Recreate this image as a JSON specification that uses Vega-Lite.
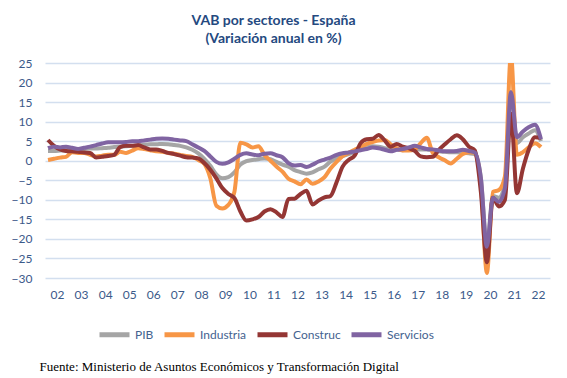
{
  "$schema": "https://vega.github.io/schema/vega-lite/v6.json",
  "width": 505,
  "height": 215,
  "autosize": {"type": "none"},
  "padding": {"left": 45, "top": 63, "right": 17, "bottom": 100},
  "background": "white",
  "config": {"view": {"stroke": null}},
  "title": {
    "text": ["VAB por sectores - España", "(Variación anual en %)"],
    "font": "Lato", "fontSize": 14, "fontWeight": "bold", "color": "#24497F",
    "anchor": "middle", "dx": -24, "offset": 11, "lineHeight": 18
  },
  "data": {"values": [
    {"t": 2002.125, "PIB": 2.5, "Industria": 0.2, "Construc": 5.3, "Servicios": 3.2},
    {"t": 2002.375, "PIB": 2.5, "Industria": 0.5, "Construc": 3.8, "Servicios": 3.6},
    {"t": 2002.625, "PIB": 2.6, "Industria": 0.8, "Construc": 2.9, "Servicios": 3.4},
    {"t": 2002.875, "PIB": 2.7, "Industria": 1.0, "Construc": 2.5, "Servicios": 3.6},
    {"t": 2003.125, "PIB": 2.9, "Industria": 2.2, "Construc": 2.4, "Servicios": 3.3},
    {"t": 2003.375, "PIB": 2.9, "Industria": 2.0, "Construc": 2.3, "Servicios": 3.0},
    {"t": 2003.625, "PIB": 3.0, "Industria": 2.0, "Construc": 2.1, "Servicios": 3.3},
    {"t": 2003.875, "PIB": 3.1, "Industria": 1.5, "Construc": 2.0, "Servicios": 3.6},
    {"t": 2004.125, "PIB": 3.1, "Industria": 1.1, "Construc": 0.8, "Servicios": 4.0},
    {"t": 2004.375, "PIB": 3.2, "Industria": 1.3, "Construc": 1.0, "Servicios": 4.4},
    {"t": 2004.625, "PIB": 3.3, "Industria": 1.5, "Construc": 1.2, "Servicios": 4.7},
    {"t": 2004.875, "PIB": 3.5, "Industria": 1.5, "Construc": 1.5, "Servicios": 4.7},
    {"t": 2005.125, "PIB": 3.6, "Industria": 2.3, "Construc": 3.5, "Servicios": 4.7},
    {"t": 2005.375, "PIB": 3.7, "Industria": 2.0, "Construc": 3.8, "Servicios": 4.8},
    {"t": 2005.625, "PIB": 3.8, "Industria": 2.6, "Construc": 3.8, "Servicios": 5.0},
    {"t": 2005.875, "PIB": 3.9, "Industria": 3.2, "Construc": 4.0, "Servicios": 5.0},
    {"t": 2006.125, "PIB": 4.1, "Industria": 3.0, "Construc": 3.4, "Servicios": 5.2},
    {"t": 2006.375, "PIB": 4.2, "Industria": 2.7, "Construc": 2.9, "Servicios": 5.4},
    {"t": 2006.625, "PIB": 4.2, "Industria": 2.4, "Construc": 2.9, "Servicios": 5.6},
    {"t": 2006.875, "PIB": 4.3, "Industria": 2.3, "Construc": 2.5, "Servicios": 5.7},
    {"t": 2007.125, "PIB": 4.2, "Industria": 2.0, "Construc": 2.0, "Servicios": 5.6},
    {"t": 2007.375, "PIB": 4.0, "Industria": 1.8, "Construc": 1.7, "Servicios": 5.4},
    {"t": 2007.625, "PIB": 3.8, "Industria": 1.5, "Construc": 1.3, "Servicios": 5.2},
    {"t": 2007.875, "PIB": 3.4, "Industria": 1.2, "Construc": 0.9, "Servicios": 5.0},
    {"t": 2008.125, "PIB": 2.8, "Industria": 1.0, "Construc": 0.8, "Servicios": 4.2},
    {"t": 2008.375, "PIB": 1.9, "Industria": 0.2, "Construc": 0.6, "Servicios": 3.4},
    {"t": 2008.625, "PIB": 0.5, "Industria": -0.8, "Construc": -0.6, "Servicios": 2.5},
    {"t": 2008.875, "PIB": -1.3, "Industria": -4.5, "Construc": -2.3, "Servicios": 1.1},
    {"t": 2009.125, "PIB": -3.5, "Industria": -11.5, "Construc": -4.5, "Servicios": -0.3},
    {"t": 2009.375, "PIB": -4.5, "Industria": -12.2, "Construc": -7.0, "Servicios": -0.8},
    {"t": 2009.625, "PIB": -4.2, "Industria": -11.3, "Construc": -8.5, "Servicios": -0.4},
    {"t": 2009.875, "PIB": -3.0, "Industria": -8.0, "Construc": -9.5, "Servicios": 0.5},
    {"t": 2010.125, "PIB": -1.0, "Industria": 4.6, "Construc": -13.0, "Servicios": 1.5},
    {"t": 2010.375, "PIB": -0.1, "Industria": 4.2, "Construc": -15.3, "Servicios": 1.9},
    {"t": 2010.625, "PIB": 0.2, "Industria": 3.4, "Construc": -15.0, "Servicios": 1.6},
    {"t": 2010.875, "PIB": 0.4, "Industria": 3.7, "Construc": -14.4, "Servicios": 1.4},
    {"t": 2011.125, "PIB": 0.6, "Industria": 1.5, "Construc": -13.0, "Servicios": 1.8},
    {"t": 2011.375, "PIB": 0.4, "Industria": 0.0, "Construc": -12.4, "Servicios": 1.9},
    {"t": 2011.625, "PIB": -0.3, "Industria": -1.5, "Construc": -13.2, "Servicios": 1.4},
    {"t": 2011.875, "PIB": -1.0, "Industria": -2.8, "Construc": -14.4, "Servicios": 0.9},
    {"t": 2012.125, "PIB": -1.5, "Industria": -4.6, "Construc": -9.8, "Servicios": -0.6},
    {"t": 2012.375, "PIB": -2.4, "Industria": -5.3, "Construc": -9.7, "Servicios": -1.2},
    {"t": 2012.625, "PIB": -2.9, "Industria": -6.0, "Construc": -8.5, "Servicios": -1.1},
    {"t": 2012.875, "PIB": -3.3, "Industria": -4.8, "Construc": -7.7, "Servicios": -1.6},
    {"t": 2013.125, "PIB": -3.0, "Industria": -5.9, "Construc": -11.2, "Servicios": -1.0},
    {"t": 2013.375, "PIB": -2.2, "Industria": -5.3, "Construc": -10.2, "Servicios": -0.2},
    {"t": 2013.625, "PIB": -1.5, "Industria": -4.2, "Construc": -9.4, "Servicios": 0.3},
    {"t": 2013.875, "PIB": -0.2, "Industria": -2.0, "Construc": -9.0, "Servicios": 0.8},
    {"t": 2014.125, "PIB": 0.6, "Industria": -0.3, "Construc": -5.5, "Servicios": 1.5},
    {"t": 2014.375, "PIB": 1.2, "Industria": 1.2, "Construc": -1.5, "Servicios": 1.9},
    {"t": 2014.625, "PIB": 1.7, "Industria": 2.0, "Construc": 0.2, "Servicios": 2.1},
    {"t": 2014.875, "PIB": 2.1, "Industria": 2.8, "Construc": 1.3, "Servicios": 2.4},
    {"t": 2015.125, "PIB": 3.3, "Industria": 3.5, "Construc": 4.5, "Servicios": 2.7},
    {"t": 2015.375, "PIB": 3.6, "Industria": 4.3, "Construc": 5.5, "Servicios": 3.0},
    {"t": 2015.625, "PIB": 3.7, "Industria": 4.8, "Construc": 5.6, "Servicios": 3.4},
    {"t": 2015.875, "PIB": 3.6, "Industria": 5.2, "Construc": 6.6, "Servicios": 3.2},
    {"t": 2016.125, "PIB": 3.2, "Industria": 5.3, "Construc": 5.2, "Servicios": 2.8},
    {"t": 2016.375, "PIB": 3.0, "Industria": 4.2, "Construc": 3.6, "Servicios": 2.4},
    {"t": 2016.625, "PIB": 2.9, "Industria": 3.2, "Construc": 4.3, "Servicios": 2.8},
    {"t": 2016.875, "PIB": 2.7, "Industria": 2.6, "Construc": 3.6, "Servicios": 3.0},
    {"t": 2017.125, "PIB": 2.9, "Industria": 2.6, "Construc": 3.2, "Servicios": 3.4},
    {"t": 2017.375, "PIB": 3.0, "Industria": 2.9, "Construc": 2.5, "Servicios": 3.8},
    {"t": 2017.625, "PIB": 2.9, "Industria": 4.5, "Construc": 1.1, "Servicios": 3.4},
    {"t": 2017.875, "PIB": 2.9, "Industria": 5.9, "Construc": 0.9, "Servicios": 3.0},
    {"t": 2018.125, "PIB": 2.7, "Industria": 2.0, "Construc": 1.0, "Servicios": 2.9},
    {"t": 2018.375, "PIB": 2.4, "Industria": 0.9, "Construc": 2.8, "Servicios": 2.6},
    {"t": 2018.625, "PIB": 2.3, "Industria": 0.1, "Construc": 4.2, "Servicios": 2.4},
    {"t": 2018.875, "PIB": 2.2, "Industria": -0.7, "Construc": 5.5, "Servicios": 2.4},
    {"t": 2019.125, "PIB": 2.2, "Industria": 0.5, "Construc": 6.5, "Servicios": 2.5},
    {"t": 2019.375, "PIB": 2.0, "Industria": 1.7, "Construc": 5.5, "Servicios": 2.8},
    {"t": 2019.625, "PIB": 1.9, "Industria": 2.2, "Construc": 3.6, "Servicios": 2.5},
    {"t": 2019.875, "PIB": 1.7, "Industria": 2.0, "Construc": 2.6, "Servicios": 2.1},
    {"t": 2020.125, "PIB": -4.3, "Industria": -6.0, "Construc": -8.0, "Servicios": -4.5},
    {"t": 2020.375, "PIB": -21.6, "Industria": -28.7, "Construc": -26.0, "Servicios": -22.0},
    {"t": 2020.625, "PIB": -9.0, "Industria": -8.0, "Construc": -9.5, "Servicios": -9.5},
    {"t": 2020.875, "PIB": -9.5, "Industria": -7.5, "Construc": -11.7, "Servicios": -10.5},
    {"t": 2021.125, "PIB": -6.0, "Industria": -4.0, "Construc": -10.0, "Servicios": -7.0},
    {"t": 2021.375, "PIB": 17.5, "Industria": 27.0, "Construc": 12.0, "Servicios": 17.5},
    {"t": 2021.625, "PIB": 4.5, "Industria": 1.5, "Construc": -8.3, "Servicios": 6.0},
    {"t": 2021.875, "PIB": 6.0, "Industria": 2.2, "Construc": -2.0, "Servicios": 7.5},
    {"t": 2022.125, "PIB": 7.0, "Industria": 3.5, "Construc": 3.0, "Servicios": 8.6},
    {"t": 2022.375, "PIB": 7.8, "Industria": 4.5, "Construc": 6.0, "Servicios": 9.2},
    {"t": 2022.625, "PIB": 5.0, "Industria": 3.5, "Construc": 5.8, "Servicios": 5.5}
  ]},
  "transform": [{"fold": ["PIB", "Industria", "Construc", "Servicios"], "as": ["serie", "valor"]}],
  "mark": {"type": "line", "strokeWidth": 4, "interpolate": "monotone", "clip": true},
  "encoding": {
    "x": {
      "field": "t", "type": "quantitative",
      "scale": {"domain": [2002, 2023], "nice": false, "zero": false},
      "axis": {
        "values": [2002.5, 2003.5, 2004.5, 2005.5, 2006.5, 2007.5, 2008.5, 2009.5, 2010.5, 2011.5, 2012.5, 2013.5, 2014.5, 2015.5, 2016.5, 2017.5, 2018.5, 2019.5, 2020.5, 2021.5, 2022.5],
        "labelExpr": "slice('' + floor(datum.value), 2)",
        "grid": false, "domain": false, "ticks": false,
        "labelPadding": 11, "labelFont": "Lato", "labelFontSize": 12, "labelColor": "#3B5A8A",
        "title": "Fuente: Ministerio de Asuntos Económicos y Transformación Digital",
        "titleFont": "Liberation Serif", "titleFontSize": 13, "titleFontWeight": "normal", "titleColor": "#000000",
        "titleAnchor": "start", "titleAlign": "left", "titleBaseline": "alphabetic",
        "titleX": -6, "titleY": 92
      }
    },
    "y": {
      "field": "valor", "type": "quantitative",
      "scale": {"domain": [-30, 25], "nice": false},
      "axis": {
        "values": [-30, -25, -20, -15, -10, -5, 0, 5, 10, 15, 20, 25],
        "grid": true, "gridColor": "#D3DFEF", "gridWidth": 1.5,
        "domain": false, "ticks": false,
        "labelPadding": 13, "labelFont": "Lato", "labelFontSize": 12, "labelColor": "#3B5A8A",
        "title": null
      }
    },
    "color": {
      "field": "serie", "type": "nominal",
      "sort": ["PIB", "Industria", "Construc", "Servicios"],
      "scale": {"domain": ["PIB", "Industria", "Construc", "Servicios"], "range": ["#A5A5A5", "#F79646", "#943634", "#8064A2"]},
      "legend": {
        "title": null, "orient": "none", "direction": "horizontal",
        "legendX": 52, "legendY": 254,
        "symbolType": "stroke", "symbolSize": 900, "symbolStrokeWidth": 5,
        "labelFont": "Lato", "labelFontSize": 12, "labelColor": "#44628F",
        "labelOffset": 3, "columnPadding": 0
      }
    }
  }
}
